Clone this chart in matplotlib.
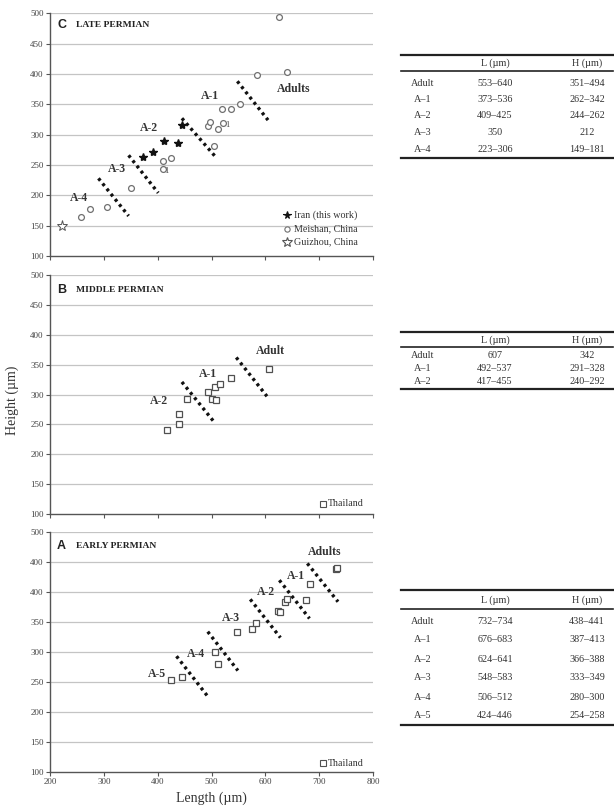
import matplotlib
matplotlib.use("Agg")
import matplotlib.pyplot as plt
from matplotlib.lines import Line2D

# ---------------- data ----------------
# Late Permian (panel C)
late_iran_L = [372, 392, 411, 437, 445]
late_iran_H = [263, 271, 289, 287, 316]
late_meishan_L = [258, 274, 306, 350, 409, 409, 425, 493, 498, 504, 513, 521, 519, 536, 553, 584, 625, 640]
late_meishan_H = [165, 178, 181, 212, 256, 244, 262, 315, 321, 282, 309, 320, 342, 342, 351, 398, 494, 403]
late_guizhou_L = [223]
late_guizhou_H = [149]

# Middle Permian (panel B)
mid_L = [417, 440, 440, 455, 494, 500, 507, 508, 516, 537, 607]
mid_H = [240, 251, 267, 292, 304, 292, 312, 291, 318, 328, 342]

# Early Permian (panel A)
early_L = [424, 446, 506, 512, 548, 575, 583, 624, 628, 637, 641, 676, 683, 732, 734]
early_H = [254, 258, 300, 280, 333, 338, 349, 368, 366, 383, 388, 387, 413, 438, 441]

# stage boundaries (L0, H0, L1, H1)
late_bounds = [(290, 228, 346, 166), (346, 266, 401, 204), (445, 327, 507, 264), (548, 388, 605, 324)]
mid_bounds = [(445, 321, 504, 255), (546, 362, 603, 297)]
early_bounds = [(435, 293, 492, 227), (493, 334, 549, 269), (572, 388, 628, 324),
                (626, 420, 682, 356), (678, 448, 735, 384)]

# stage labels (text, L, H)
late_labels = [("A-4", 254, 196), ("A-3", 324, 243), ("A-2", 383, 311), ("A-1", 497, 364), ("Adults", 652, 375)]
mid_labels = [("A-2", 403, 289), ("A-1", 494, 335), ("Adult", 609, 372)]
early_labels = [("A-5", 398, 263), ("A-4", 471, 297), ("A-3", 537, 356), ("A-2", 601, 400),
                ("A-1", 656, 427), ("Adults", 711, 467)]

# size-range tables
table_cols = ["L (\u00b5m)", "H (\u00b5m)"]
late_table = [("Adult", "553\u2013640", "351\u2013494"), ("A\u20131", "373\u2013536", "262\u2013342"),
              ("A\u20132", "409\u2013425", "244\u2013262"), ("A\u20133", "350", "212"),
              ("A\u20134", "223\u2013306", "149\u2013181")]
mid_table = [("Adult", "607", "342"), ("A\u20131", "492\u2013537", "291\u2013328"),
             ("A\u20132", "417\u2013455", "240\u2013292")]
early_table = [("Adult", "732\u2013734", "438\u2013441"), ("A\u20131", "676\u2013683", "387\u2013413"),
               ("A\u20132", "624\u2013641", "366\u2013388"), ("A\u20133", "548\u2013583", "333\u2013349"),
               ("A\u20134", "506\u2013512", "280\u2013300"), ("A\u20135", "424\u2013446", "254\u2013258")]

y_ticks = [100, 150, 200, 250, 300, 350, 400, 450, 500]
y_ticklabels = ["100", "150", "200", "250", "300", "350", "400", "450", "500"]
y_ticklabels_early = ["100", "150", "200", "250", "300", "350", "400", "400", "500"]
x_ticks = [200, 300, 400, 500, 600, 700, 800]

# ---------------- layout ----------------
W, H = 614, 806
fig = plt.figure(figsize=(W / 100, H / 100), dpi=100)
SERIF = "Liberation Serif"
SANS = "Liberation Sans"
AX_COL = "#555555"


def fx(px):
    return px / W


def fy(py):
    return 1 - py / H


def make_axes(top, bottom, ylabels, show_x):
    ax = fig.add_axes([fx(50), fy(bottom), fx(373) - fx(50), fy(top) - fy(bottom)])
    ax.set_xlim(200, 800)
    ax.set_ylim(100, 500)
    ax.set_yticks(y_ticks)
    ax.set_yticklabels(ylabels, fontfamily=SERIF, fontsize=6.5, color="#444444")
    ax.set_xticks(x_ticks)
    if show_x:
        ax.set_xticklabels([str(v) for v in x_ticks], fontfamily=SERIF, fontsize=6.5, color="#444444")
    else:
        ax.set_xticklabels([])
    for s in ("top", "right"):
        ax.spines[s].set_visible(False)
    for s in ("left", "bottom"):
        ax.spines[s].set_color(AX_COL)
        ax.spines[s].set_linewidth(1.0)
    ax.tick_params(axis="both", direction="out", length=3, width=0.8, color=AX_COL, pad=1.5)
    for v in y_ticks[1:]:
        ax.axhline(v, color="#c4c4c4", lw=0.9, zorder=0)
    return ax


def draw_bounds(ax, bounds):
    for l0, h0, l1, h1 in bounds:
        ax.plot([l0, l1], [h0, h1], color="#111111", lw=2.4, linestyle=(0, (0.9, 1.1)),
                dash_capstyle="butt", zorder=2)


def draw_labels(ax, labels):
    for t, l, h in labels:
        ax.text(l, h, t, fontfamily=SERIF, fontweight="bold", fontsize=8.5, color="#333333",
                ha="center", va="center", zorder=4)


def draw_title(top, letter, name):
    fig.text(fx(57), fy(top), letter, fontfamily=SANS, fontweight="bold", fontsize=9,
             color="#222222", ha="left", va="center")
    fig.text(fx(76), fy(top), name, fontfamily=SERIF, fontweight="bold", fontsize=6.8,
             color="#222222", ha="left", va="center")


def draw_table(rows, top, header_y, mid, row_ys, bottom):
    x0, x1 = 401, 613
    for yy, lw in ((top, 1.6), (mid, 1.2), (bottom, 1.6)):
        fig.add_artist(Line2D([fx(x0), fx(x1)], [fy(yy), fy(yy)], color="#222222", lw=lw))
    kw = dict(fontfamily=SERIF, fontsize=7.3, color="#333333", va="center")
    fig.text(fx(495), fy(header_y), table_cols[0], ha="center", **kw)
    fig.text(fx(587), fy(header_y), table_cols[1], ha="center", **kw)
    for (name, lv, hv), yy in zip(rows, row_ys):
        fig.text(fx(423), fy(yy), name, ha="center", **kw)
        fig.text(fx(495), fy(yy), lv, ha="center", **kw)
        fig.text(fx(587), fy(yy), hv, ha="center", **kw)


# ---------------- panel C: Late Permian ----------------
axC = make_axes(13.3, 256, y_ticklabels, False)
draw_bounds(axC, late_bounds)
axC.plot(late_meishan_L, late_meishan_H, "o", ms=4.2, mfc="white", mec="#707070", mew=0.9, zorder=3)
axC.plot(late_iran_L, late_iran_H, "*", ms=6, mfc="#111111", mec="#111111", zorder=3)
axC.plot(late_guizhou_L, late_guizhou_H, "*", ms=8, mfc="white", mec="#555555", mew=0.7, zorder=3)
axC.text(416, 240, "1", fontfamily=SERIF, fontsize=6, color="#444444", ha="center", va="center")
axC.text(529, 316, "1", fontfamily=SERIF, fontsize=6, color="#444444", ha="center", va="center")
draw_labels(axC, late_labels)
draw_title(25, "C", "LATE PERMIAN")

leg_items = [("*", 5.5, "#111111", "#111111", "Iran (this work)"),
             ("o", 3.8, "white", "#707070", "Meishan, China"),
             ("*", 7, "white", "#555555", "Guizhou, China")]
for i, (mk, ms, fc, ec, lab) in enumerate(leg_items):
    yy = 215 + 13.5 * i
    fig.add_artist(Line2D([fx(287)], [fy(yy)], marker=mk, ms=ms, mfc=fc, mec=ec, mew=0.8, linestyle="none"))
    fig.text(fx(294), fy(yy), lab, fontfamily=SERIF, fontsize=7.2, color="#333333", ha="left", va="center")

draw_table(late_table, 55, 63.5, 71, [83, 99.5, 116, 132.5, 149], 158)

# ---------------- panel B: Middle Permian ----------------
axB = make_axes(275, 514, y_ticklabels, False)
draw_bounds(axB, mid_bounds)
axB.plot(mid_L, mid_H, "s", ms=4.2, mfc="white", mec="#505050", mew=0.9, zorder=3)
draw_labels(axB, mid_labels)
draw_title(290, "B", "MIDDLE PERMIAN")
fig.add_artist(Line2D([fx(323)], [fy(504)], marker="s", ms=4, mfc="white", mec="#505050", mew=0.8, linestyle="none"))
fig.text(fx(328), fy(504), "Thailand", fontfamily=SERIF, fontsize=7.2, color="#333333", ha="left", va="center")

draw_table(mid_table, 332, 340, 347, [356, 368.5, 381], 389)

# ---------------- panel A: Early Permian ----------------
axA = make_axes(532.3, 771.7, y_ticklabels_early, True)
draw_bounds(axA, early_bounds)
axA.plot(early_L, early_H, "s", ms=4.2, mfc="white", mec="#505050", mew=0.9, zorder=3)
draw_labels(axA, early_labels)
draw_title(546, "A", "EARLY PERMIAN")
fig.add_artist(Line2D([fx(323)], [fy(763)], marker="s", ms=4, mfc="white", mec="#505050", mew=0.8, linestyle="none"))
fig.text(fx(328), fy(763), "Thailand", fontfamily=SERIF, fontsize=7.2, color="#333333", ha="left", va="center")

draw_table(early_table, 590, 600, 608.5, [621, 640, 659, 678, 697, 716], 725)

# axis titles
fig.text(fx(211), fy(798), "Length (\u00b5m)", fontfamily=SERIF, fontsize=10, color="#333333",
         ha="center", va="center")
fig.text(fx(12), fy(400), "Height (\u00b5m)", fontfamily=SERIF, fontsize=10, color="#333333",
         ha="center", va="center", rotation=90)

fig.savefig("out.png", dpi=100, facecolor="white")
